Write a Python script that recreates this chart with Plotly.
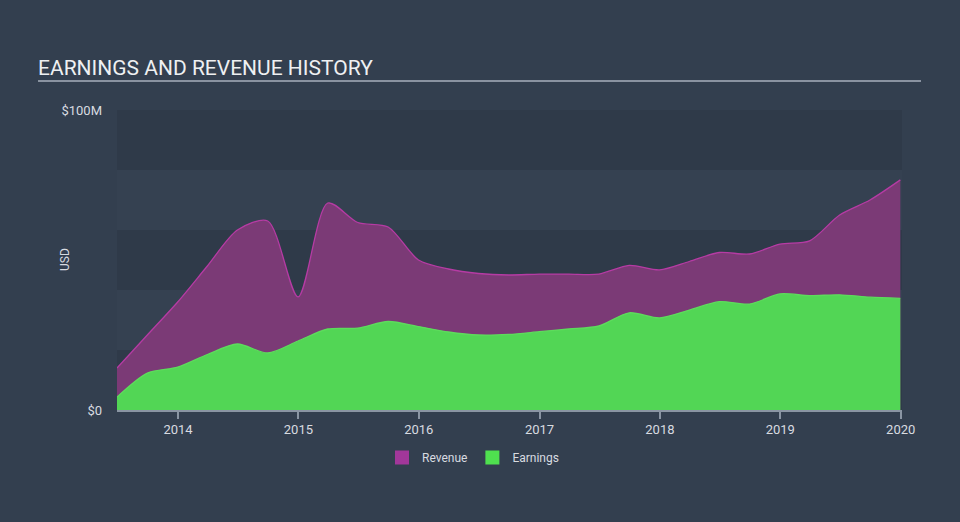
import plotly.graph_objects as go

dates = ["2013-06-30", "2013-09-30", "2013-12-31", "2014-03-31", "2014-06-30", "2014-09-30",
         "2014-12-31", "2015-03-31", "2015-06-30", "2015-09-30", "2015-12-31", "2016-03-31",
         "2016-06-30", "2016-09-30", "2016-12-31", "2017-03-31", "2017-06-30", "2017-09-30",
         "2017-12-31", "2018-03-31", "2018-06-30", "2018-09-30", "2018-12-31", "2019-03-31",
         "2019-06-30", "2019-09-30", "2019-12-31"]

revenue = [14.0, 25.0, 36.0, 48.0, 60.0, 63.0, 37.7, 69.0, 62.5, 61.0, 50.0, 47.0,
           45.5, 45.0, 45.3, 45.3, 45.3, 48.2, 46.7, 49.5, 52.5, 52.0, 55.3, 56.4,
           65.0, 70.0, 76.7]

earnings = [4.3, 12.3, 14.3, 18.5, 22.0, 19.0, 23.0, 27.0, 27.3, 29.5, 27.8, 26.0,
            25.0, 25.2, 26.1, 27.0, 28.0, 32.4, 30.7, 33.3, 36.1, 35.3, 38.7, 38.1,
            38.4, 37.6, 37.2]

revenue_m = [v * 1e6 for v in revenue]
earnings_m = [v * 1e6 for v in earnings]

y_tickvals = [0, 100e6]
y_ticktext = ["$0", "$100M"]
x_tickvals = ["2014-01-01", "2015-01-01", "2016-01-01", "2017-01-01", "2018-01-01", "2019-01-01", "2020-01-01"]
x_ticktext = ["2014", "2015", "2016", "2017", "2018", "2019", "2020"]

BG = "#333f4f"
REV_FILL = "#7b3a76"
EARN_FILL = "#52d655"

fig = go.Figure()
fig.add_trace(go.Scatter(
    x=dates, y=revenue_m, name="Revenue", mode="lines", showlegend=False,
    line=dict(color="#b63ba4", width=1.3, shape="spline", smoothing=0.8),
    fill="tozeroy", fillcolor=REV_FILL,
))
fig.add_trace(go.Scatter(
    x=dates, y=earnings_m, name="Earnings", mode="lines", showlegend=False,
    line=dict(color="#5ddc5c", width=1.3, shape="spline", smoothing=0.8),
    fill="tozeroy", fillcolor=EARN_FILL,
))
# legend swatches
fig.add_trace(go.Scatter(x=[None], y=[None], name="Revenue", mode="markers",
                         marker=dict(symbol="square", size=14, color="#a2379a")))
fig.add_trace(go.Scatter(x=[None], y=[None], name="Earnings", mode="markers",
                         marker=dict(symbol="square", size=14, color="#4fe04f")))

shapes = []
for i in range(5):
    y0 = i * 20e6
    y1 = y0 + 20e6
    color = "rgba(0,0,0,0.075)" if i % 2 == 0 else "rgba(255,255,255,0.012)"
    shapes.append(dict(type="rect", xref="paper", yref="y", x0=0, x1=1, y0=y0, y1=y1,
                       fillcolor=color, line=dict(width=0), layer="below"))
shapes.append(dict(type="line", xref="paper", yref="paper", x0=-0.1006, x1=1.0242, y0=1.0967, y1=1.0967,
                   line=dict(color="#a9b1bc", width=1.5)))

fig.update_layout(
    width=960, height=522,
    paper_bgcolor=BG, plot_bgcolor=BG,
    margin=dict(l=117, r=58, t=110, b=112),
    font=dict(family="Roboto, sans-serif", color="#d8dbe0", size=12),
    title=dict(text="EARNINGS AND REVENUE HISTORY", x=38 / 960, xanchor="left",
               y=1 - 68 / 522, yanchor="middle",
               font=dict(size=21, color="#eef0f2", family="Roboto, sans-serif")),
    showlegend=True,
    legend=dict(orientation="h", x=(473 - 117) / 785, xanchor="center", y=-0.11, yanchor="top",
                font=dict(size=12, color="#d8dbe0"), traceorder="normal",
                itemwidth=30),
    shapes=shapes,
    annotations=[dict(text="USD", textangle=-90, xref="paper", yref="paper",
                      x=(65 - 117) / 785, y=0.5, xanchor="center", yanchor="middle",
                      showarrow=False, font=dict(size=12, color="#d8dbe0"))],
    xaxis=dict(range=["2013-06-30", "2020-01-05"], tickvals=x_tickvals, ticktext=x_ticktext,
               showgrid=False, zeroline=False, showline=True, linecolor="#8a95a3", linewidth=1.5,
               ticks="outside", ticklen=7, tickcolor="#8a95a3", tickwidth=1.5,
               tickfont=dict(size=13, color="#d8dbe0")),
    yaxis=dict(range=[0, 100e6], tickvals=y_tickvals, ticktext=y_ticktext,
               showgrid=False, zeroline=False, showline=False,
               ticks="", ticklabelstandoff=14,
               tickfont=dict(size=13, color="#d8dbe0")),
)

fig.write_html("out.html", config={"displayModeBar": False},
               post_script="document.body.style.margin='0';document.body.style.padding='0';")
